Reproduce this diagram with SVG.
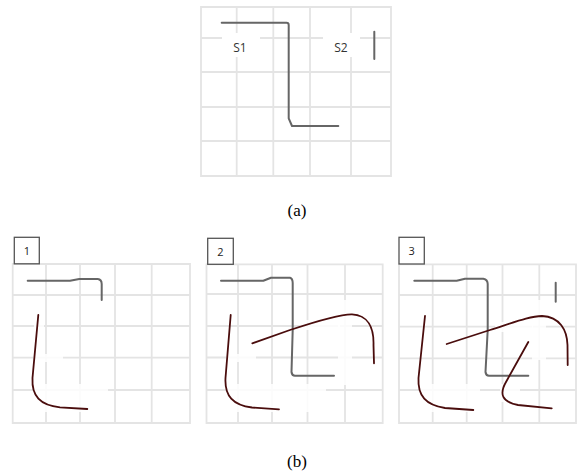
<svg xmlns="http://www.w3.org/2000/svg" width="580" height="476" viewBox="0 0 580 476">
<style>
.grid{fill:none;stroke:#e4e4e4;stroke-width:1.8}
.gray{fill:none;stroke:#666;stroke-width:2;stroke-linecap:round;stroke-linejoin:round}
.red{fill:none;stroke:#4a0d0d;stroke-width:1.8;stroke-linecap:round;stroke-linejoin:round}
.wipe{fill:#fff;opacity:0.85}
.lbl{font-family:"Open Sans","DejaVu Sans",sans-serif;font-size:12px;fill:#333;text-anchor:middle}
.num{font-family:"Open Sans","DejaVu Sans",sans-serif;font-size:11px;fill:#222;text-anchor:middle}
.box{fill:#fff;stroke:#555;stroke-width:1.3}
.cap{font-family:"Liberation Serif","Times New Roman",serif;font-size:17px;fill:#000;text-anchor:middle}
</style>
<rect width="580" height="476" fill="#fff"/>

<g id="panel-a">
  <path class="grid" d="M201,7H391V176H201Z M236.7,7V176 M273.3,7V176 M310,7V176 M351,7V176 M201,38H391 M201,72H391 M201,107H391 M201,141H391"/>
  <rect fill="#fff" x="222" y="33" width="38" height="24"/>
  <rect fill="#fff" x="323" y="33" width="37" height="24"/>
  <text class="lbl" x="240" y="52">S1</text>
  <text class="lbl" x="341" y="52">S2</text>
</g>

<g id="panel-b1">
  <path class="grid" d="M12.7,264H190V423H12.7Z M46,264V423 M80,264V423 M115,264V423 M151.7,264V423 M12.7,295H190 M12.7,326H190 M12.7,357.7H190 M12.7,390H190"/>
  <rect class="wipe" x="33" y="384" width="75" height="28"/>
  <rect class="wipe" x="34" y="322" width="10" height="8"/>
  <rect class="wipe" x="33" y="354" width="30" height="8"/>
  <rect class="box" x="14.3" y="237.3" width="25" height="26.5"/>
  <text class="num" x="26.8" y="254.5">1</text>
</g>

<g id="panel-b2">
  <path class="grid" d="M206.5,264.3H382.7V423H206.5Z M238,264.3V423 M272,264.3V423 M307.5,264.3V423 M345,264.3V423 M206.5,294H382.7 M206.5,326H382.7 M206.5,357.5H382.7 M206.5,390H382.7"/>
  <rect class="wipe" x="226" y="384" width="100" height="28"/>
  <rect class="wipe" x="338" y="300" width="14" height="85"/>
  <rect class="wipe" x="300" y="320" width="40" height="10"/>
  <rect class="wipe" x="226" y="354" width="30" height="8"/>
  <rect class="box" x="207.7" y="238.3" width="25.6" height="26"/>
  <text class="num" x="220.5" y="255.5">2</text>
</g>

<g id="panel-b3">
  <path class="grid" d="M399,264.3H576V423H399Z M432.7,264.3V423 M466.7,264.3V423 M502.5,264.3V423 M539.3,264.3V423 M399,295H576 M399,326.7H576 M399,358.3H576 M399,390H576"/>
  <rect class="wipe" x="420" y="384" width="60" height="28"/>
  <rect class="wipe" x="500" y="384" width="20" height="18"/>
  <rect class="wipe" x="532" y="300" width="14" height="60"/>
  <rect class="wipe" x="495" y="322" width="38" height="10"/>
  <rect class="box" x="399" y="237.3" width="25.3" height="26.7"/>
  <text class="num" x="411.7" y="255">3</text>
</g>

<g id="connectors">
  <path class="gray" d="M221.7,22.7H286.5Q288.7,22.7 288.7,25V118.3L292,126H338.3"/>
  <path class="gray" d="M374.3,31.7V59"/>

  <path class="gray" d="M27.7,280.7H70L79.3,279H97.7Q101.7,279.5 101.7,284V300"/>
  <path class="red" d="M38.3,315L32.5,378C31.5,396 40,405 60,407.3L87.3,409"/>

  <path class="gray" d="M221,280.7H263.3L271,277.7H290Q292.7,278.5 292.7,283V330L291.5,372Q292,375.7 295,375.7H334"/>
  <path class="red" d="M230.7,315L225.5,378C224.5,396 233,405 252,407.5L279,409.3"/>
  <path class="red" d="M252.3,343.3L290,330C320,320 340,314 352,314.3C368,315 374,328 373.5,345L374,363.3"/>

  <path class="gray" d="M414.3,280.7H456.7L465,278.7H483.3Q487.7,279.5 487.7,284V330L485.5,372Q486,375.7 489,375.7H528.3"/>
  <path class="gray" d="M555.7,282.7V301.7"/>
  <path class="red" d="M425,316L418.5,378C417.5,396 426,405 445,408L473.3,410"/>
  <path class="red" d="M446.7,344L490,330C515,322 530,316 542,316C560,317 567,330 567.5,345L567.7,365"/>
  <path class="red" d="M528.3,342L506,382C499,394 502,402 518,405L551.7,408.3"/>
</g>

<text class="cap" x="297" y="216">(a)</text>
<text class="cap" x="297" y="467">(b)</text>
</svg>
